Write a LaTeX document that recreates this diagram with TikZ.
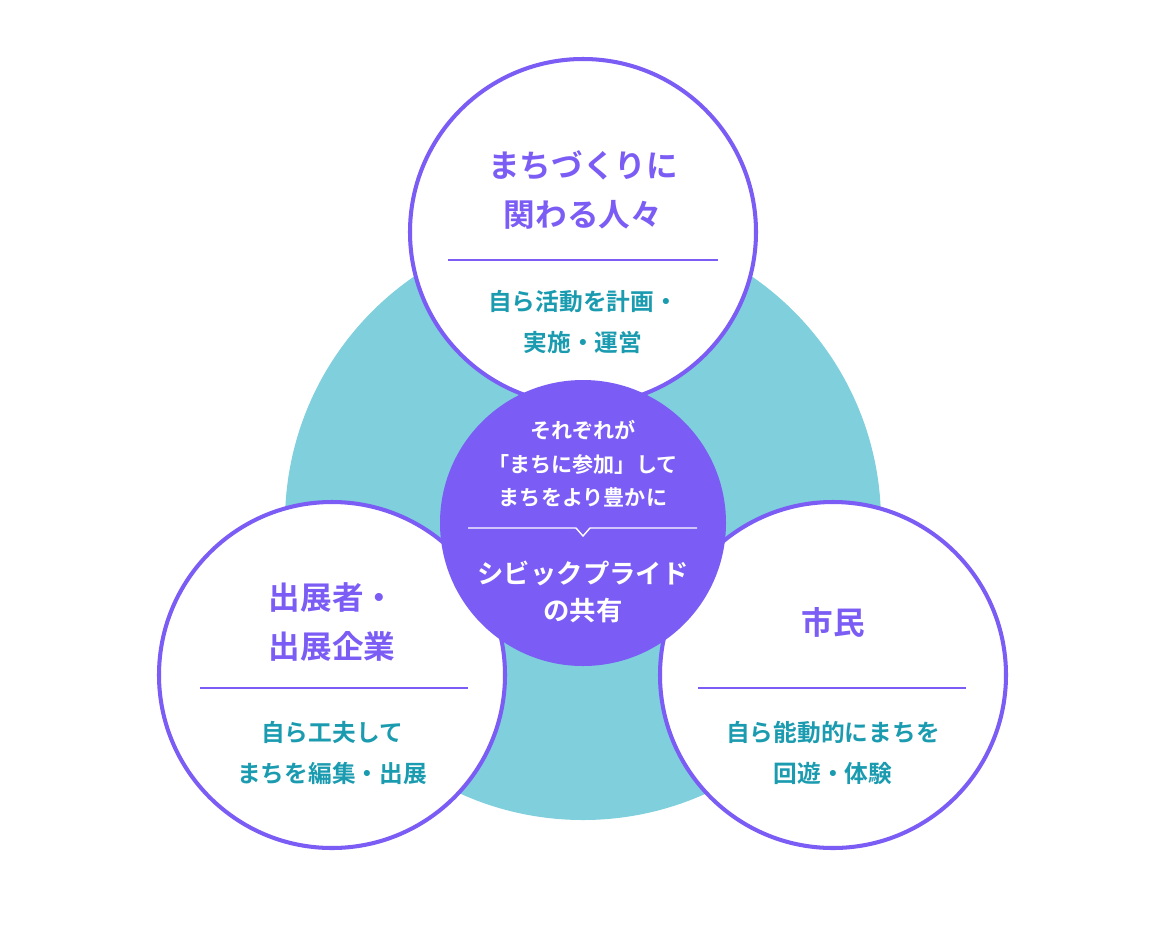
\documentclass[tikz,border=0pt]{standalone}
\usepackage{fontspec}
\newfontfamily\cjk{Noto Sans CJK JP}[BoldFont=* Bold]
\definecolor{civic}{HTML}{7B5CF5}
\definecolor{teal}{HTML}{7FCFDC}
\definecolor{subtxt}{HTML}{1A9BB0}
\begin{document}
\begin{tikzpicture}[x=0.02cm,y=-0.02cm,
    actor/.style={circle, draw=civic, line width=2.3pt, fill=white, minimum size=346*0.02cm, inner sep=0pt},
    title/.style={font=\cjk\bfseries\fontsize{18}{28}\selectfont, text=civic, align=center},
    sub/.style={font=\cjk\bfseries\fontsize{13.5}{23}\selectfont, text=subtxt, align=center},
    core/.style={font=\cjk\bfseries\fontsize{12}{19}\selectfont, text=white, align=center},
    rule/.style={draw=civic, line width=0.8pt}
]
\useasboundingbox (0,0) rectangle (1150,934);

% ----- background -----
\fill[teal] (583,522) circle (298);

% ----- circles -----
\node[actor] (top)   at (583,232) {};
\node[actor] (left)  at (332,675) {};
\node[actor] (right) at (833,675) {};
\node[circle, fill=civic, minimum size=286*0.02cm, inner sep=0pt] (center) at (583,523) {};

% ----- top -----
\node[title] (toptitle) at (583,190) {まちづくりに\\関わる人々};
\draw[rule] (448,260) -- (718,260);
\node[sub] (topsub) at (583,322) {自ら活動を計画・\\実施・運営};

% ----- left -----
\node[title] (lefttitle) at (332,622) {出展者・\\出展企業};
\draw[rule] (200,688) -- (468,688);
\node[sub] (leftsub) at (332,753) {自ら工夫して\\まちを編集・出展};

% ----- right -----
\node[title] (righttitle) at (833,622) {市民};
\draw[rule] (698,688) -- (966,688);
\node[sub] (rightsub) at (833,753) {自ら能動的にまちを\\回遊・体験};

% ----- center -----
\node[core] (why) at (583,464) {それぞれが\\「まちに参加」して\\まちをより豊かに};
\draw[white, line width=0.8pt] (468,528) -- (576,528) -- (583,536) -- (590,528) -- (697,528);
\node[core, font=\cjk\bfseries\fontsize{15}{21}\selectfont] (pride) at (583,592) {シビックプライド\\の共有};

\end{tikzpicture}
\end{document}
